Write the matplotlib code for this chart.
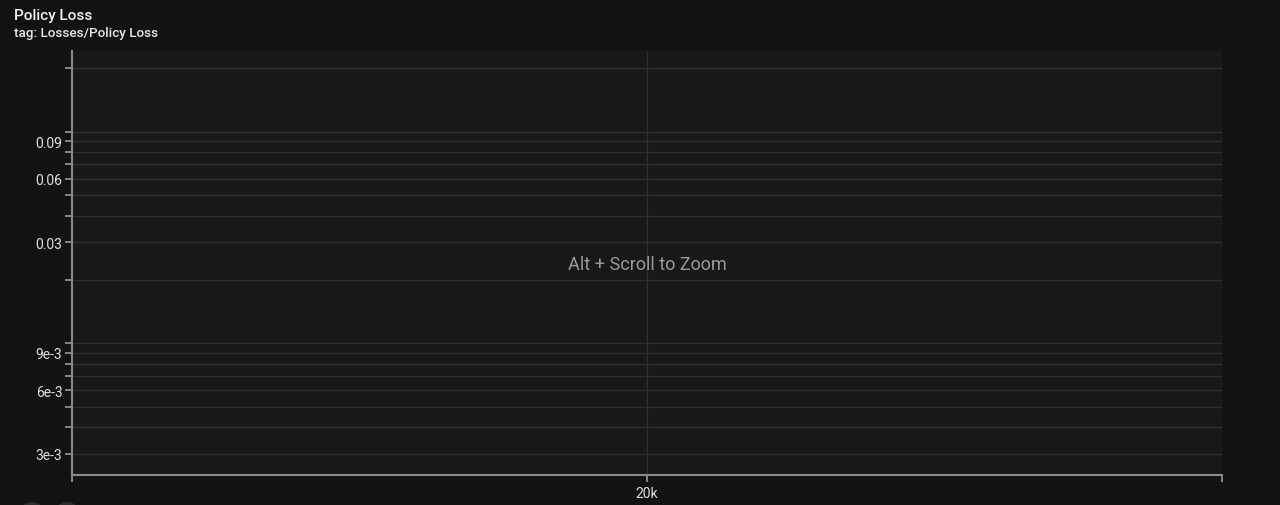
import matplotlib
matplotlib.use("Agg")
import matplotlib.pyplot as plt
from matplotlib.patches import Circle
from matplotlib.ticker import FixedLocator, NullFormatter

plt.rcParams['font.family'] = ['Roboto', 'DejaVu Sans']

# ---- data ----
title = "Policy Loss"
subtitle = "tag: Losses/Policy Loss"
overlay_text = "Alt + Scroll to Zoom"
steps = []          # no visible run data
values = []
x_range = [19000, 21000]
x_tick_values = [20000]
x_tick_labels = ["20k"]
y_range = [2.385e-3, 0.2406]
y_major_values = [0.09, 0.06, 0.03, 9e-3, 6e-3, 3e-3]
y_major_labels = ["0.09", "0.06", "0.03", "9e-3", "6e-3", "3e-3"]
y_minor_values = [0.2, 0.1, 0.08, 0.07, 0.05, 0.04, 0.02, 0.01,
                  8e-3, 7e-3, 5e-3, 4e-3]

W, H = 1280, 506
fig = plt.figure(figsize=(W / 100, H / 100), dpi=100, facecolor="#121212")
ax = fig.add_axes([72 / W, (H - 476) / H, (1222 - 72) / W, (476 - 52) / H])
ax.set_facecolor("#181818")

ax.plot(steps, values, color="#ff7043")

ax.set_yscale("log")
ax.set_xlim(*x_range)
ax.set_ylim(*y_range)

ax.yaxis.set_major_locator(FixedLocator(y_major_values))
ax.set_yticklabels(y_major_labels)
ax.yaxis.set_minor_locator(FixedLocator(y_minor_values))
ax.yaxis.set_minor_formatter(NullFormatter())

ax.set_xticks([x_range[0]] + x_tick_values + [x_range[1]])
ax.set_xticklabels([""] + x_tick_labels + [""])
ax.xaxis.set_minor_locator(FixedLocator([]))

grid_c = "#2f2f2f"
ax.grid(True, which="both", axis="y", color=grid_c, linewidth=1.0)
for xv in x_tick_values:
    ax.axvline(xv, color=grid_c, linewidth=1.0, zorder=0.5)
ax.set_axisbelow(True)

for s in ["top", "right"]:
    ax.spines[s].set_visible(False)
for s in ["left", "bottom"]:
    ax.spines[s].set_color("#8a8a8a")
    ax.spines[s].set_linewidth(1.5)

ax.tick_params(axis="y", which="both", length=5, width=1.2, color="#9a9a9a",
               labelcolor="#e0e0e0", labelsize=10, pad=2)
ax.tick_params(axis="x", which="both", length=5, width=1.2, color="#9a9a9a",
               labelcolor="#e0e0e0", labelsize=10, pad=3)

ax.text(0.5, (476 - 265) / (476 - 52), overlay_text, transform=ax.transAxes,
        ha="center", va="center", color="#9a9a9a", fontsize=13)

fig.text(14 / W, 1 - 16 / H, title, ha="left", va="center",
         color="#f2f2f2", fontsize=11, fontweight="medium")
fig.text(14 / W, 1 - 33 / H, subtitle, ha="left", va="center",
         color="#e8e8e8", fontsize=9.7, fontweight="medium")

for cx in [32, 67]:
    fig.patches.append(Circle((cx, H - 517), 14, transform=None,
                              facecolor="#2e2e2e", edgecolor="none"))

fig.savefig("out.png", dpi=100, facecolor=fig.get_facecolor())
